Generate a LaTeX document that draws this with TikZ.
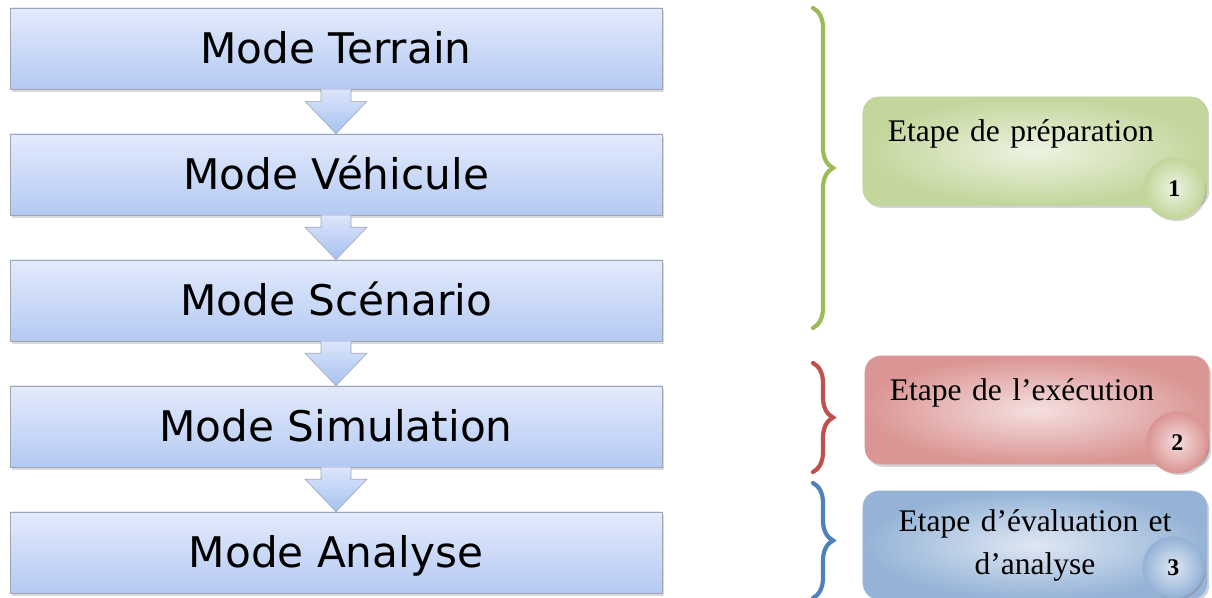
\documentclass[tikz,border=0pt]{standalone}
\usepackage{fontspec}
\setmainfont{Liberation Serif}
\newfontfamily\modefont{DejaVu Sans}
\usetikzlibrary{positioning, calc, shadows, decorations.pathreplacing}

\definecolor{modetop}{HTML}{E3EBFC}
\definecolor{modebot}{HTML}{B4C9F3}
\definecolor{modeline}{HTML}{A0A6B0}
\definecolor{arrowtop}{HTML}{DCE6FB}
\definecolor{arrowbot}{HTML}{A6C0F0}
\definecolor{preplight}{HTML}{EDF3E2}
\definecolor{prepdark}{HTML}{C3D69B}
\definecolor{prepline}{HTML}{B9D191}
\definecolor{preparc}{HTML}{9BBB59}
\definecolor{execlight}{HTML}{F4E0DF}
\definecolor{execdark}{HTML}{DA9694}
\definecolor{execline}{HTML}{DDA09E}
\definecolor{execarc}{HTML}{C0504D}
\definecolor{evallight}{HTML}{DFE8F3}
\definecolor{evaldark}{HTML}{95B3D7}
\definecolor{evalline}{HTML}{9DBADD}
\definecolor{evalarc}{HTML}{4F81BD}

\begin{document}
\begin{tikzpicture}[
    x=0.025cm, y=0.025cm,
    node distance=1.11cm,
    modebox/.style={rectangle, draw=modeline, top color=modetop, bottom color=modebot, minimum width=16.3cm, minimum height=2.025cm, text height=21.5pt, text depth=0pt, font=\modefont\fontsize{30}{35}\selectfont, drop shadow={shadow xshift=1.5pt, shadow yshift=-2pt, opacity=0.3}},
    stagebox/.style={rectangle, rounded corners=0.4cm, minimum width=8.6cm, minimum height=2.7cm, inner xsep=0.625cm, text width=7.35cm, align=left, font=\fontsize{22.4}{30.6}\selectfont, drop shadow={shadow xshift=1.5pt, shadow yshift=-2pt, opacity=0.35}},
    oneline/.style={text height=16pt, text depth=30pt},
    badge/.style={circle, line width=1.5pt, minimum size=1.5cm, inner sep=0pt, font=\bfseries\fontsize{17}{17}\selectfont, drop shadow={shadow xshift=1.5pt, shadow yshift=-2pt, opacity=0.35}},
    blockarrow/.style={draw=modeline, top color=arrowtop, bottom color=arrowbot},
    bracket/.style={decorate, decoration={brace, amplitude=0.5cm}, line width=3pt, line cap=round}
]
\useasboundingbox (0,0) rectangle (1212,598);

% Modes
\node[modebox] (terrain) at (336,549.5) {Mode Terrain};
\node[modebox, below=of terrain] (vehicule) {Mode Véhicule};
\node[modebox, below=of vehicule] (scenario) {Mode Scénario};
\node[modebox, below=of scenario] (simulation) {Mode Simulation};
\node[modebox, below=of simulation] (analyse) {Mode Analyse};

% Block arrows between modes
\foreach \a/\b in {terrain/vehicule, vehicule/scenario, scenario/simulation, simulation/analyse}
  \draw[blockarrow] ($(\a.south)+(-15,0)$) -- ($(\a.south)+(-15,-12)$) -- ($(\a.south)+(-31,-12)$) -- (\b.north) -- ($(\a.south)+(31,-12)$) -- ($(\a.south)+(15,-12)$) -- ($(\a.south)+(15,0)$);

% Stages
\node[stagebox, oneline, draw=prepline, inner color=preplight, outer color=prepdark] (prep) at (1035,447) {Etape de préparation};
\node[stagebox, oneline, draw=execline, inner color=execlight, outer color=execdark] (exec) at (1037,188) {Etape de l’exécution};
\node[stagebox, align=center, draw=evalline, inner color=evallight, outer color=evaldark] (eval) at (1035,53) {Etape d’évaluation et\\d’analyse};

% Badges
\node[badge, draw=prepdark, inner color=preplight, outer color=prepdark] (one) at ($(prep.south east)+(-33,17)$) {1};
\node[badge, draw=execdark, inner color=execlight, outer color=execdark] (two) at ($(exec.south east)+(-32,22)$) {2};
\node[badge, draw=evaldark, inner color=evallight, outer color=evaldark] (three) at ($(eval.south east)+(-34,32)$) {3};

% Braces
\coordinate (preptop) at (813,590);
\coordinate (prepbot) at (813,270);
\coordinate (exectop) at (813,235);
\coordinate (execbot) at (813,126);
\coordinate (evaltop) at (813,115);
\coordinate (evalbot) at (813,0);
\draw[bracket, preparc] (preptop) -- (prepbot);
\draw[bracket, execarc] (exectop) -- (execbot);
\draw[bracket, evalarc] (evaltop) -- (evalbot);

\end{tikzpicture}
\end{document}
